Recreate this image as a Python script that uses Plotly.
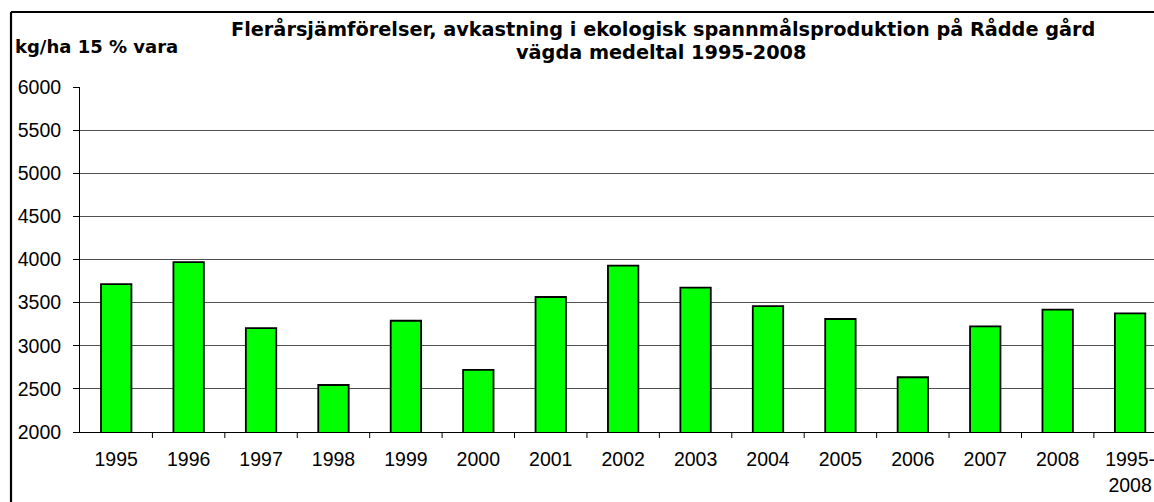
import plotly.graph_objects as go

categories = ["1995", "1996", "1997", "1998", "1999", "2000", "2001", "2002",
              "2003", "2004", "2005", "2006", "2007", "2008", "1995-<br>2008"]
yields = [3715, 3970, 3205, 2545, 3290, 2720, 3565, 3930,
          3675, 3460, 3310, 2635, 3225, 3420, 3375]
y_ticks = [2000, 2500, 3000, 3500, 4000, 4500, 5000, 5500, 6000]

title_line1 = "Flerårsjämförelser, avkastning i ekologisk spannmålsproduktion på Rådde gård"
title_line2 = "vägda medeltal 1995-2008"
y_title = "kg/ha 15 % vara"

W, H = 1154, 502
L, R, T, B = 80, 0, 87, 70
pw, ph = W - L - R, H - T - B

def px(x):
    return (x - L) / pw

def py(y):
    return (H - B - y) / ph

fig = go.Figure()
fig.add_trace(go.Bar(
    x=list(range(len(categories))), y=yields,
    width=0.42,
    marker=dict(color="#00ff00", line=dict(color="black", width=1.8)),
    hoverinfo="skip",
))

fig.update_layout(
    width=W, height=H,
    margin=dict(l=L, r=R, t=T, b=B, pad=0),
    paper_bgcolor="white", plot_bgcolor="white",
    showlegend=False,
    bargap=0,
    font=dict(family="Liberation Sans, Arial", color="black"),
    xaxis=dict(
        range=[-0.5, 14.33],
        tickmode="array",
        tickvals=list(range(len(categories))),
        ticktext=categories,
        tickfont=dict(size=19.5, family="Liberation Sans, Arial", color="black"),
        ticklabeloverflow="allow",
        showgrid=False,
        showline=True, linecolor="black", linewidth=1,
        ticks="", zeroline=False,
        ticklabelstandoff=10,
    ),
    yaxis=dict(
        range=[2000, 6000],
        tickmode="array", tickvals=y_ticks,
        ticktext=[str(v) for v in y_ticks],
        tickfont=dict(size=19.5, family="Liberation Sans, Arial", color="black"),
        showgrid=True, gridcolor="#505050", gridwidth=1,
        showline=True, linecolor="black", linewidth=1,
        ticks="outside", ticklen=6, tickcolor="black",
        zeroline=False,
        ticklabelstandoff=8,
    ),
)

# category boundary tick marks on the x axis
for i in range(len(categories)):
    b = i + 0.5
    fig.add_shape(type="line", xref="x", yref="paper", x0=b, x1=b, y0=0, y1=py(438),
                  line=dict(color="black", width=1))

# outer chart border (extends beyond visible window)
fig.add_shape(type="line", xref="paper", yref="paper",
              x0=px(11), x1=px(11), y0=py(12), y1=py(600),
              line=dict(color="black", width=2.2))
fig.add_shape(type="line", xref="paper", yref="paper",
              x0=px(11), x1=px(1300), y0=py(12), y1=py(12),
              line=dict(color="black", width=2.2))

fig.add_annotation(text=title_line1, xref="paper", yref="paper",
                   x=px(663), y=py(29.5), xanchor="center", yanchor="middle",
                   showarrow=False,
                   font=dict(family="DejaVu Sans", size=19.3, weight="bold", color="black"))
fig.add_annotation(text=title_line2, xref="paper", yref="paper",
                   x=px(661), y=py(52), xanchor="center", yanchor="middle",
                   showarrow=False,
                   font=dict(family="DejaVu Sans", size=19.3, weight="bold", color="black"))
fig.add_annotation(text=y_title, xref="paper", yref="paper",
                   x=px(13), y=py(47), xanchor="left", yanchor="middle",
                   showarrow=False,
                   font=dict(family="DejaVu Sans", size=18, weight="bold", color="black"))

fig.write_html(
    "out.html",
    config={"displayModeBar": False, "staticPlot": True},
    post_script="document.body.style.margin='0';document.body.style.overflow='hidden';",
)
